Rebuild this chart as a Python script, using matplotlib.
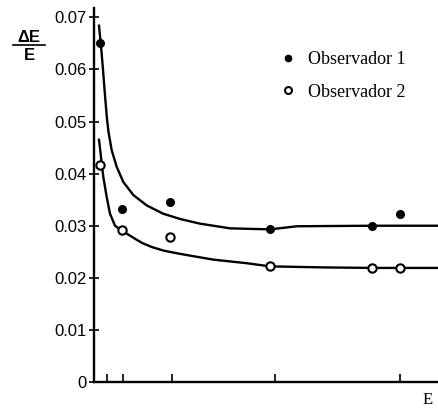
import matplotlib
matplotlib.use("Agg")
import matplotlib.pyplot as plt
from matplotlib.lines import Line2D

# E in arbitrary units (no scale printed on the original axis)
e_obs = [6, 28, 76, 176, 278, 306]
obs1 = [0.0651, 0.0333, 0.0345, 0.0294, 0.0300, 0.0322]
obs2 = [0.0416, 0.0292, 0.0278, 0.0223, 0.0219, 0.0219]

# fitted curves
e_fit1 = [5, 7, 9, 11, 13, 14.5, 17.7, 22.7, 29.3, 39.3, 52.7, 69.3, 86,
          106, 136, 176, 203, 278, 345]
fit1 = [0.0684, 0.0645, 0.0600, 0.0550, 0.0505, 0.0480, 0.0445, 0.0413,
        0.0384, 0.0359, 0.0339, 0.0323, 0.0313, 0.0304, 0.0295, 0.0293,
        0.0299, 0.0300, 0.0300]
e_fit2 = [5, 7, 9.3, 12.7, 16, 21, 29.3, 39.3, 48, 58, 70, 86, 119, 153,
          176, 229, 279, 345]
fit2 = [0.0465, 0.0432, 0.0394, 0.0355, 0.0323, 0.0300, 0.0289, 0.0277,
        0.0267, 0.0259, 0.0252, 0.0246, 0.0235, 0.0228, 0.0222, 0.0220,
        0.0219, 0.0219]

x_ticks = [13, 29, 78, 181, 306]
y_ticks = [0, 0.01, 0.02, 0.03, 0.04, 0.05, 0.06, 0.07]
y_labels = ["0", "0.01", "0.02", "0.03", "0.04", "0.05", "0.06", "0.07"]

fig = plt.figure(figsize=(4.39, 4.08), dpi=100)
ax = fig.add_axes([94 / 439, 26 / 408, 345 / 439, 374 / 408])

ax.plot(e_fit1, fit1, color="black", lw=1.7, zorder=2)
ax.plot(e_fit2, fit2, color="black", lw=1.7, zorder=2)
ax.plot(e_obs, obs1, "o", color="black", ms=5.5, zorder=3)
ax.plot(e_obs, obs2, "o", mfc="white", mec="black", mew=1.5, ms=6, zorder=3)

ax.set_xlim(0, 345)
ax.set_ylim(0, 0.0718)
ax.set_xticks(x_ticks)
ax.set_xticklabels([])
ax.set_yticks(y_ticks)
ax.set_yticklabels(y_labels, fontfamily="Liberation Sans", fontsize=12)
ax.tick_params(axis="x", direction="in", length=6, width=1.2)
ax.tick_params(axis="y", direction="inout", length=7, width=1.2, pad=2)

for side in ["top", "right"]:
    ax.spines[side].set_visible(False)
for side in ["left", "bottom"]:
    ax.spines[side].set_linewidth(1.7)

# ΔE / E label as a stacked fraction
fig.text(29 / 439, 1 - 37 / 408, "ΔE", fontfamily="Liberation Sans",
         fontweight="bold", fontsize=12, ha="center", va="center")
fig.add_artist(Line2D([13 / 439, 45 / 439], [1 - 45 / 408, 1 - 45 / 408],
                      color="black", lw=1.2))
fig.text(29 / 439, 1 - 55 / 408, "E", fontfamily="Liberation Sans",
         fontweight="bold", fontsize=12, ha="center", va="center")
fig.text(428 / 439, 8 / 408, "E", fontfamily="Liberation Serif", fontsize=12,
         ha="center", va="center")

handles = [
    Line2D([], [], ls="none", marker="o", color="black", ms=4.5),
    Line2D([], [], ls="none", marker="o", mfc="white", mec="black", mew=1.5, ms=5),
]
ax.legend(handles, ["Observador 1", "Observador 2"], loc="upper left",
          bbox_to_anchor=(0.49, 0.928), frameon=False, handletextpad=0.6,
          handlelength=1.0, labelspacing=0.85,
          prop={"family": "Liberation Serif", "size": 13})

fig.savefig("out.png", dpi=100)
